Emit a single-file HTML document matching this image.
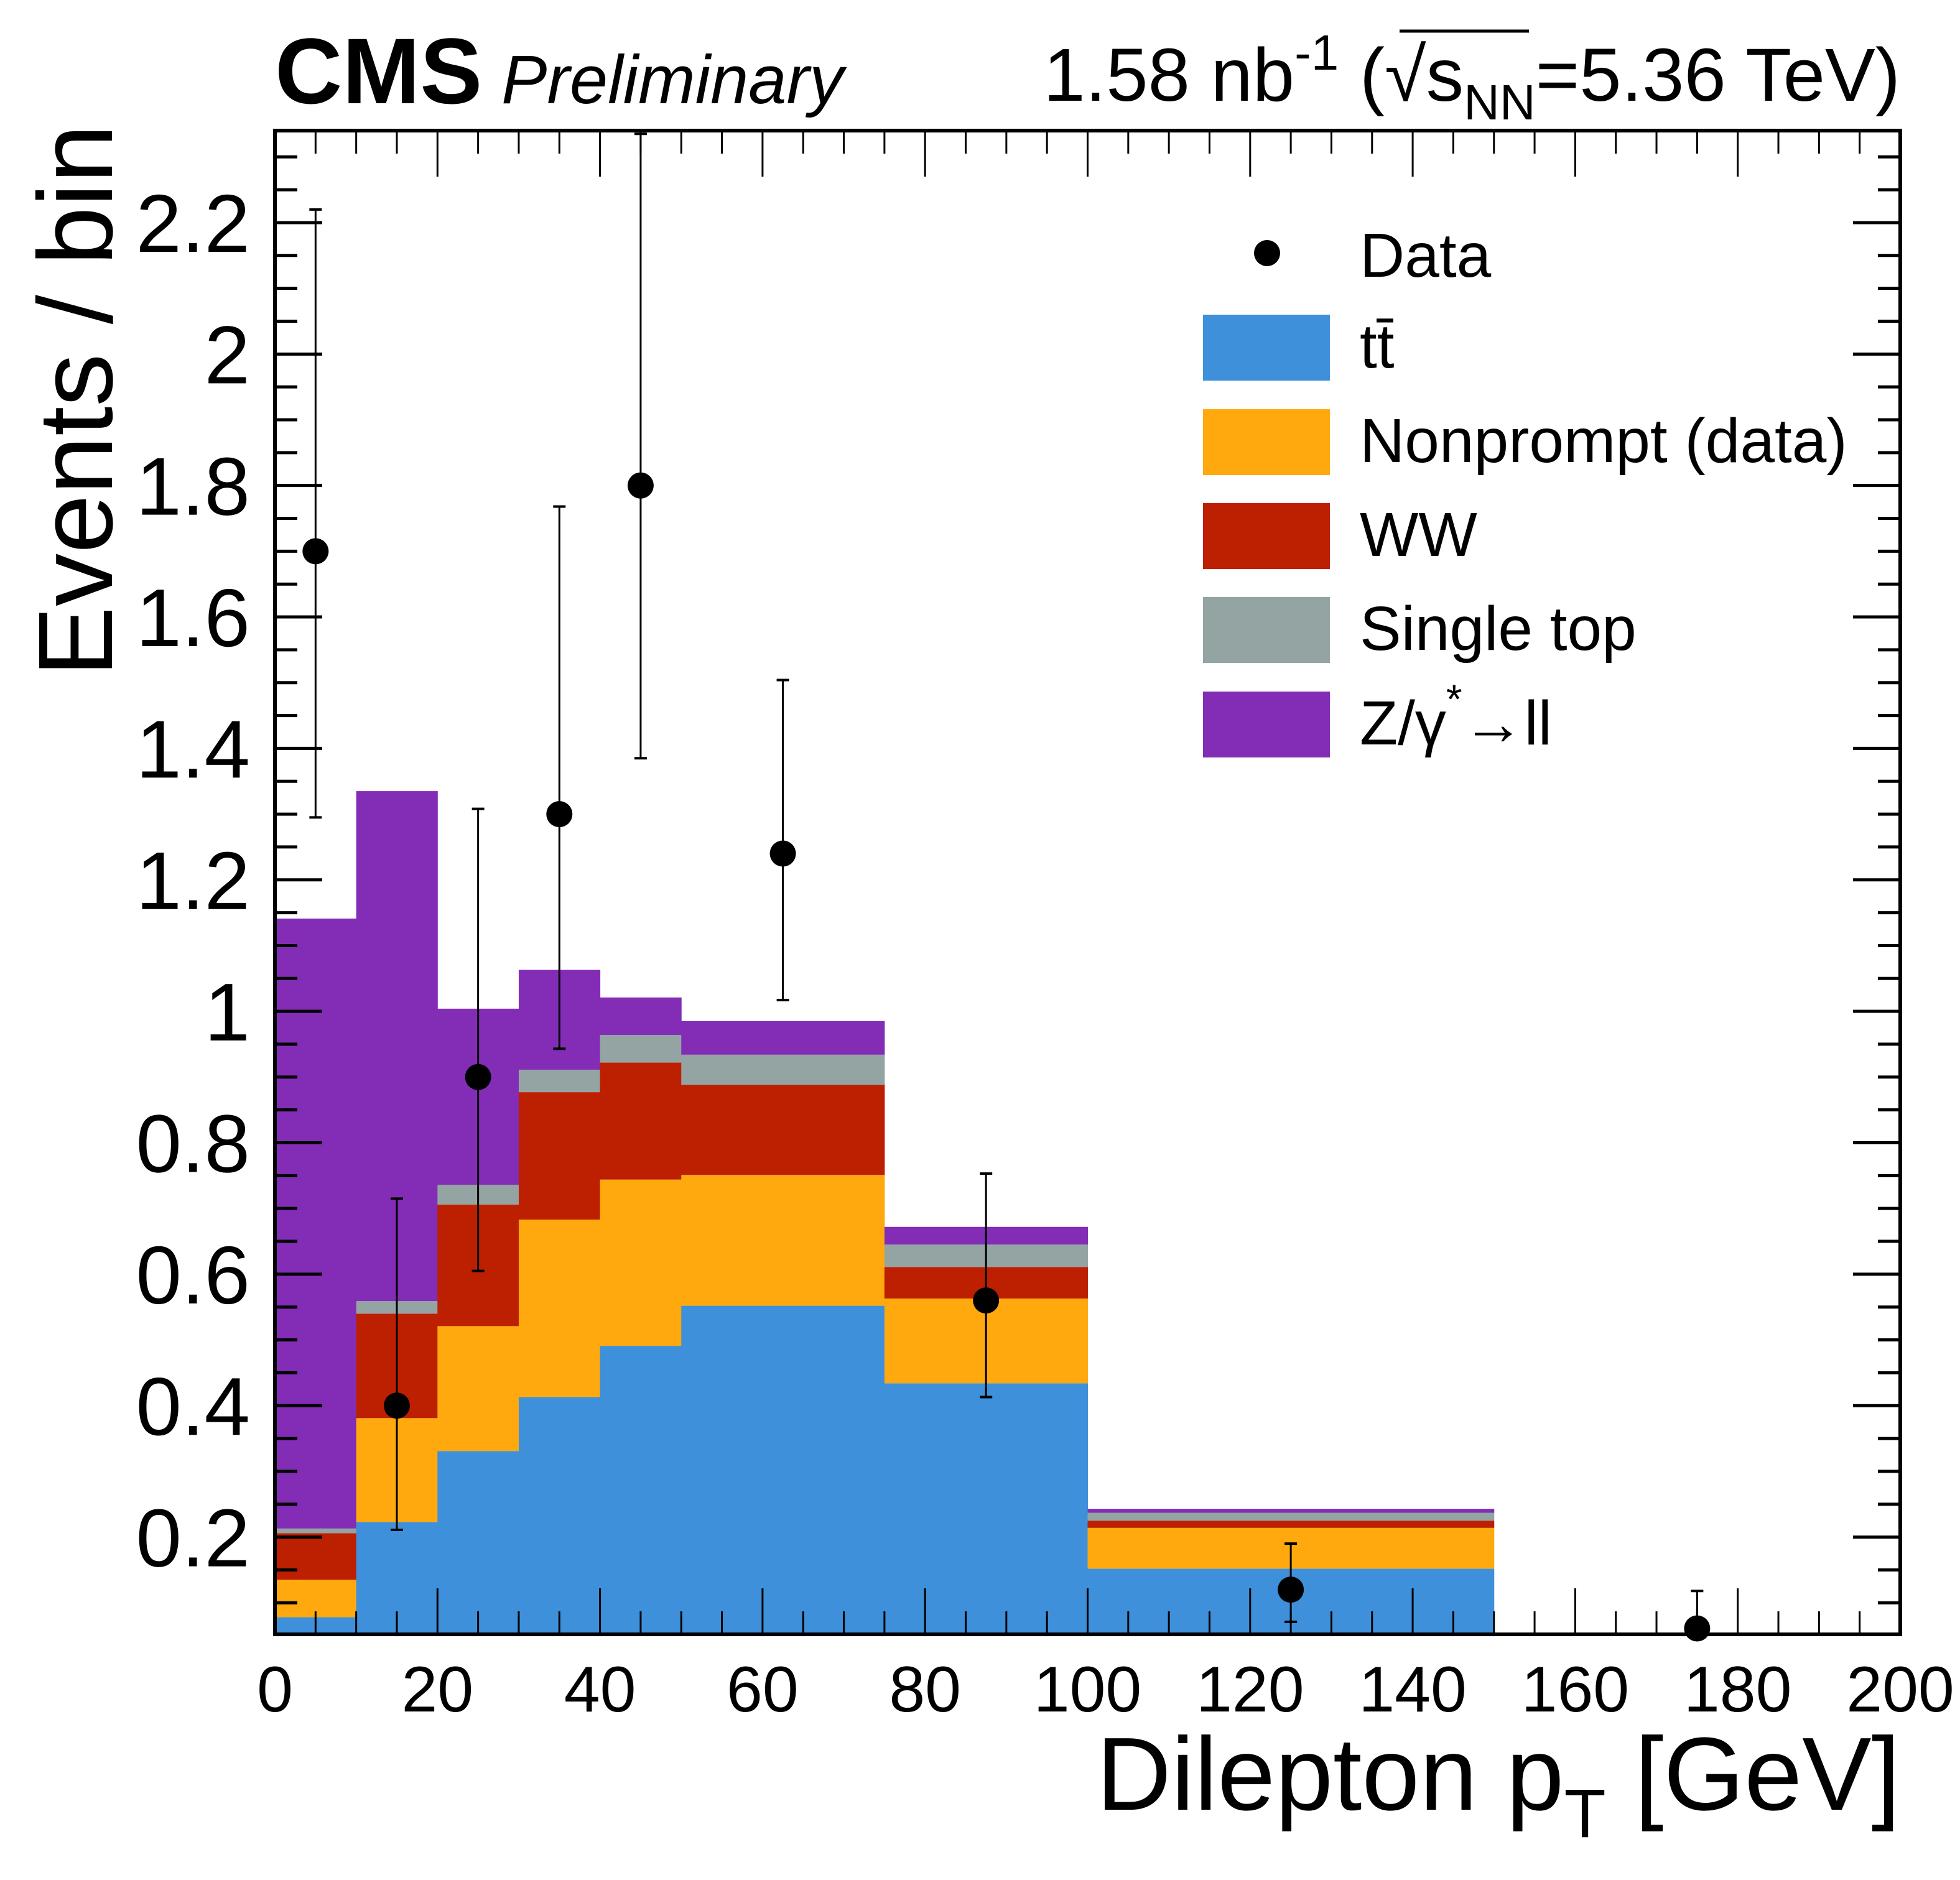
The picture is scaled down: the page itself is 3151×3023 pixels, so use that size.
<!DOCTYPE html>
<html><head><meta charset="utf-8"><style>
html,body{margin:0;padding:0;background:#fff}
svg{display:block}
text{font-family:"Liberation Sans",sans-serif;fill:#000}
</style></head><body>
<svg id="chart" width="3151" height="3023" viewBox="0 0 3151 3023" xmlns="http://www.w3.org/2000/svg">
<g id="hist"></g>
<g id="data"></g>
<g id="axes"></g>
<text x="442" y="166" font-size="150" font-weight="bold">CMS</text>
<text x="806" y="166" font-size="110" font-style="italic">Preliminary</text>
<text x="3055" y="162" font-size="121" text-anchor="end">1.58 nb<tspan dy="-50" font-size="80">-1</tspan><tspan dy="50"> (√</tspan><tspan>s</tspan><tspan dy="30" font-size="80">NN</tspan><tspan dy="-30">=5.36 TeV)</tspan></text>
<line x1="2250" y1="50" x2="2458" y2="50" stroke="#000" stroke-width="5"/>
<text transform="translate(180,200) rotate(-90)" font-size="170" text-anchor="end">Events / bin</text>
<text x="3055" y="2910" font-size="167" text-anchor="end">Dilepton p<tspan dy="44" font-size="110">T</tspan><tspan dy="-44"> [GeV]</tspan></text>
<g id="legend">
<circle cx="2037" cy="407" r="21" fill="#000"/>
<text x="2186" y="445" font-size="100">Data</text>
<rect x="1934" y="506" width="204" height="106" fill="#3f90da"/>
<text x="2186" y="591" font-size="100">tt̄</text>
<rect x="1934" y="658" width="204" height="106" fill="#ffa90e"/>
<text x="2186" y="743" font-size="100">Nonprompt (data)</text>
<rect x="1934" y="809" width="204" height="106" fill="#bd1f01"/>
<text x="2186" y="894" font-size="100">WW</text>
<rect x="1934" y="960" width="204" height="106" fill="#94a4a2"/>
<text x="2186" y="1045" font-size="100">Single top</text>
<rect x="1934" y="1112" width="204" height="106" fill="#832db6"/>
<text x="2186" y="1197" font-size="100">Z/γ<tspan dy="-50" font-size="66">*</tspan><tspan dy="50">→ll</tspan></text>
</g>
</svg>
<script>
const binEdges = [0,10,20,30,40,50,75,100,150,200];
const ttbar = [0.078,0.223,0.331,0.413,0.491,0.552,0.434,0.152,0.002];
const nonprompt = [0.057,0.158,0.190,0.270,0.253,0.199,0.129,0.062,0.0];
const ww = [0.071,0.159,0.185,0.194,0.178,0.137,0.048,0.011,0.0];
const singletop = [0.007,0.019,0.030,0.034,0.042,0.046,0.034,0.012,0.002];
const dy = [0.928,0.776,0.268,0.152,0.057,0.051,0.027,0.006,0.003];
const dataX = [5,15,25,35,45,62.5,87.5,125,175];
const dataY = [1.70,0.40,0.90,1.30,1.80,1.24,0.56,0.12,0.061];
const dataUp = [2.22,0.715,1.308,1.768,2.335,1.504,0.753,0.19,0.118];
const dataDown = [1.295,0.211,0.605,0.943,1.385,1.017,0.413,0.071,0.0];
const yTickLabels = ["0.2","0.4","0.6","0.8","1","1.2","1.4","1.6","1.8","2","2.2"];
const xTickLabels = ["0","20","40","60","80","100","120","140","160","180","200"];

const X0=442,X1=3055,Y0=2628,Y1=210,XMIN=0,XMAX=200,YMIN=0.052,YMAX=2.34;
const NS="http://www.w3.org/2000/svg";
function sx(v){return X0+(v-XMIN)/(XMAX-XMIN)*(X1-X0);}
function sy(v){v=Math.max(YMIN,Math.min(YMAX,v));return Y0-(v-YMIN)/(YMAX-YMIN)*(Y0-Y1);}
function mk(tag,attrs,parent){const e=document.createElementNS(NS,tag);for(const k in attrs)e.setAttribute(k,attrs[k]);parent.appendChild(e);return e;}

const hist=document.getElementById('hist');
const comps=[[ttbar,'#3f90da','ttbar'],[nonprompt,'#ffa90e','nonprompt'],[ww,'#bd1f01','ww'],[singletop,'#94a4a2','singletop'],[dy,'#832db6','dy']];
for(let i=0;i<binEdges.length-1;i++){
  let base=0;
  for(const [arr,col,nm] of comps){
    const top=base+arr[i];
    const r=mk('rect',{x:sx(binEdges[i]),width:sx(binEdges[i+1])-sx(binEdges[i])+0.5,y:sy(top),height:Math.max(0,sy(base)-sy(top)),fill:col},hist);
    
    
    base=top;
  }
}
const dg=document.getElementById('data');
for(let i=0;i<dataX.length;i++){
  const x=sx(dataX[i]);
  const g=mk('g',{},dg);
  
  
  mk('line',{x1:x,x2:x,y1:sy(dataUp[i]),y2:sy(dataDown[i]),stroke:'#000','stroke-width':3},g);
  mk('line',{x1:x-10,x2:x+10,y1:sy(dataUp[i]),y2:sy(dataUp[i]),stroke:'#000','stroke-width':4},g);
  if(dataDown[i]>YMIN) mk('line',{x1:x-10,x2:x+10,y1:sy(dataDown[i]),y2:sy(dataDown[i]),stroke:'#000','stroke-width':4},g);
  mk('circle',{cx:x,cy:sy(dataY[i]),r:21,fill:'#000'},g);
}
const ax=document.getElementById('axes');
for(let v=0;v<=200;v+=5){
  const x=sx(v),L=(v%20===0)?74:37;
  mk('line',{x1:x,x2:x,y1:Y0,y2:Y0-L,stroke:'#000','stroke-width':3},ax);
  mk('line',{x1:x,x2:x,y1:Y1,y2:Y1+L,stroke:'#000','stroke-width':3},ax);
}
xTickLabels.forEach((t,i)=>{
  const tx=mk('text',{x:sx(i*20),y:2752,'font-size':104,'text-anchor':'middle'},ax);
  tx.textContent=t;
  
  
});
for(let k=2;k*0.05<=YMAX+1e-9;k++){
  const v=k*0.05,y=sy(v),L=(k%4===0)?76:36;
  mk('line',{x1:X0,x2:X0+L,y1:y,y2:y,stroke:'#000','stroke-width':5},ax);
  mk('line',{x1:X1,x2:X1-L,y1:y,y2:y,stroke:'#000','stroke-width':5},ax);
}
yTickLabels.forEach((t)=>{
  const tx=mk('text',{x:402,y:sy(parseFloat(t))+47,'font-size':132,'text-anchor':'end'},ax);
  tx.textContent=t;
  
  
});
const fr=mk('rect',{x:X0,y:Y1,width:X1-X0,height:Y0-Y1,fill:'none',stroke:'#000','stroke-width':6},ax);


</script>
</body></html>
